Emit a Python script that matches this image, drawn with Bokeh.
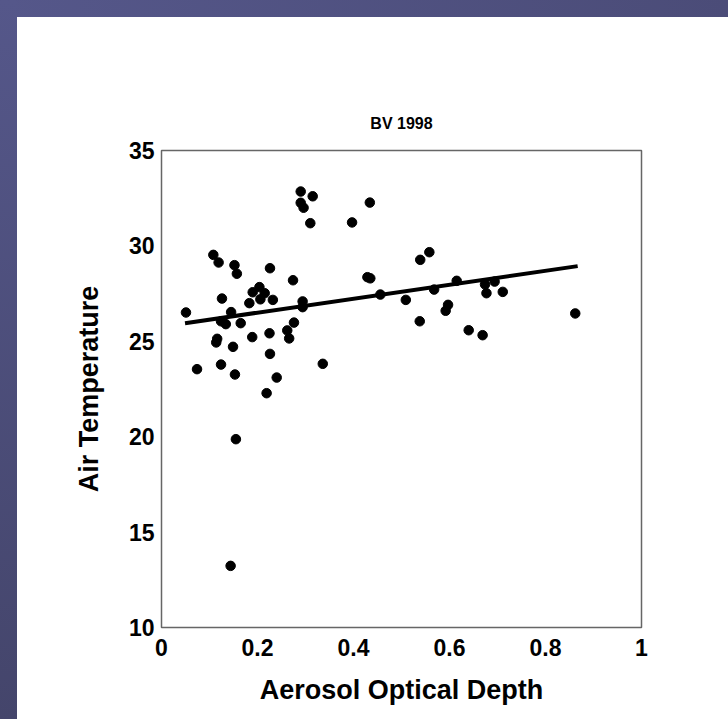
from bokeh.plotting import figure
from bokeh.models import FixedTicker, Title, Range1d
from bokeh.embed import file_html
from bokeh.resources import INLINE

# Data
aod = [0.290, 0.315, 0.290, 0.296, 0.434, 0.310, 0.397, 0.108, 0.119, 0.152,
       0.157, 0.226, 0.274, 0.429, 0.435, 0.126, 0.190, 0.204, 0.215, 0.206,
       0.232, 0.183, 0.294, 0.294, 0.456, 0.051, 0.145, 0.124, 0.134, 0.165,
       0.276, 0.262, 0.266, 0.225, 0.189, 0.116, 0.114, 0.149, 0.226, 0.336,
       0.074, 0.124, 0.153, 0.240, 0.219, 0.155, 0.144, 0.558, 0.539, 0.509,
       0.568, 0.615, 0.674, 0.694, 0.677, 0.711, 0.597, 0.592, 0.538, 0.640,
       0.669, 0.862]
air_temp = [32.85, 32.60, 32.26, 32.00, 32.27, 31.19, 31.23, 29.53, 29.13, 28.99,
            28.54, 28.83, 28.20, 28.36, 28.30, 27.24, 27.57, 27.84, 27.52, 27.20,
            27.17, 27.00, 27.09, 26.79, 27.45, 26.51, 26.53, 26.05, 25.90, 25.95,
            25.98, 25.57, 25.15, 25.42, 25.22, 25.13, 24.94, 24.71, 24.34, 23.82,
            23.54, 23.78, 23.26, 23.10, 22.28, 19.87, 13.23, 29.67, 29.27, 27.17,
            27.71, 28.17, 27.98, 28.13, 27.52, 27.59, 26.91, 26.60, 26.05, 25.58,
            25.32, 26.46]
trend_x = [0.049, 0.867]
trend_y = [25.95, 28.94]

x_ticks = [0, 0.2, 0.4, 0.6, 0.8, 1]
x_tick_labels = ["0", "0.2", "0.4", "0.6", "0.8", "1"]
y_ticks = [10, 15, 20, 25, 30, 35]
y_tick_labels = ["10", "15", "20", "25", "30", "35"]

FONT = "Liberation Sans"

p = figure(width=711, height=702, output_backend="svg", toolbar_location=None,
           x_range=Range1d(0, 1), y_range=Range1d(10, 35),
           min_border_left=144, min_border_right=87,
           min_border_top=133, min_border_bottom=92,
           background_fill_color="white", border_fill_color="white")

p.add_layout(Title(text="BV 1998", align="center", text_font=FONT,
                   text_font_size="16px", text_font_style="bold",
                   text_color="black", offset=0, standoff=37), "above")

p.grid.visible = False
p.outline_line_color = "#666666"
p.outline_line_width = 1.5

for ax in (p.xaxis[0], p.yaxis[0]):
    ax.axis_line_color = None
    ax.major_tick_line_color = None
    ax.minor_tick_line_color = None
    ax.major_label_text_font = FONT
    ax.major_label_text_font_style = "bold"
    ax.major_label_text_color = "black"
    ax.major_label_text_font_size = "23px"
    ax.axis_label_text_font = FONT
    ax.axis_label_text_font_style = "bold"
    ax.axis_label_text_color = "black"
    ax.axis_label_text_font_size = "27px"

p.xaxis.ticker = FixedTicker(ticks=x_ticks)
p.xaxis.major_label_overrides = dict(zip(x_ticks, x_tick_labels))
p.yaxis.ticker = FixedTicker(ticks=y_ticks)
p.yaxis.major_label_overrides = dict(zip(y_ticks, y_tick_labels))
p.xaxis.axis_label = "Aerosol Optical Depth"
p.yaxis.axis_label = "Air Temperature"
p.xaxis.major_label_standoff = 5
p.yaxis.major_label_standoff = 1
p.xaxis.axis_label_standoff = 16
p.yaxis.axis_label_standoff = 22

p.line(trend_x, trend_y, line_color="black", line_width=4)
p.scatter(aod, air_temp, size=9.5, fill_color="black", line_color="black")

html = file_html(p, INLINE)
css = ("<style>"
       "html { margin: 0 !important; padding: 0 !important; background: white !important; "
       "overflow: hidden !important; } "
       "body { margin: 0 !important; padding: 17px 0 0 17px !important; "
       "overflow: hidden !important; background-color: white !important; "
       "background-image: linear-gradient(180deg, #55578a, #44456b), "
       "linear-gradient(90deg, #55578a, #4b4c78) !important; "
       "background-size: 17px 100%, 100% 17px !important; "
       "background-position: left top, left top !important; "
       "background-repeat: no-repeat, no-repeat !important; }"
       "</style>")
html = html.replace("</head>", css + "\n</head>", 1)
open("out.html", "w").write(html)
